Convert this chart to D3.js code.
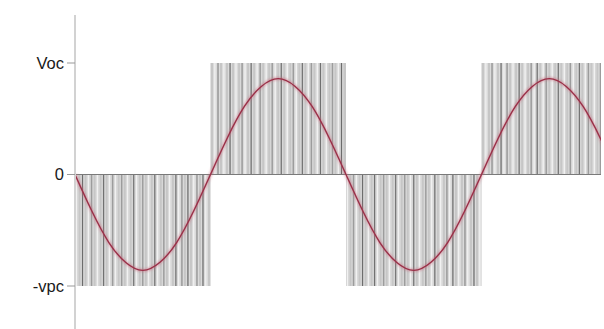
<!DOCTYPE html>
<html>
<head>
<meta charset="utf-8">
<script src="https://cdn.jsdelivr.net/npm/d3@7"></script>
<style>
  html, body { margin: 0; padding: 0; background: #fff; }
  svg { display: block; font-family: "Liberation Sans", Arial, sans-serif; }
</style>
</head>
<body>
<svg id="chart" width="604" height="329"></svg>
<script>
// Output levels of the inverter bridge and their axis labels
const levelValues = [1, 0, -1];
const levelLabels = ["Voc", "0", "-vpc"];

// Half-cycles of the switched output (time in fundamental cycles)
const halfStart = [0, 0.5, 1, 1.5];
const halfEnd   = [0.5, 1, 1.5, 2];
const halfLevel = [-1, 1, -1, 1];

// Pulse edges inside each half-cycle (0 = off gap, 1 = plain, 2 = mid edge, 3 = dark edge)
const pulsePattern = [
  "013102101310201210130121013012101302131021301",
  "102101310120131021012013101201310210310121031",
  "012013101301210130121031012103101203101201310",
  "101201302101310120310210131012013102101201312"
];

// Filtered fundamental, sampled every 1/16 of a cycle
const sineTime = d3.range(0, 33).map(i => i / 16);
const sineValue = [
  0, -0.33, -0.61, -0.79, -0.86, -0.79, -0.61, -0.33,
  0, 0.33, 0.61, 0.79, 0.86, 0.79, 0.61, 0.33,
  0, -0.33, -0.61, -0.79, -0.86, -0.79, -0.61, -0.33,
  0, 0.33, 0.61, 0.79, 0.86, 0.79, 0.61, 0.33, 0
];

const edgeColor = [null, null, "#9c9c9c", "#6c6c6c"];
const edgeWidth = [0, 0, 1.4, 1.1];

const svg = d3.select("#chart");
const x = d3.scaleLinear().domain([0, 2]).range([75, 617]);
const y = d3.scaleLinear().domain([-1, 1]).range([286, 63]);

const defs = svg.append("defs");
defs.append("clipPath").attr("id", "plot")
  .append("rect").attr("x", 75).attr("y", 0).attr("width", 526).attr("height", 329);
defs.append("filter").attr("id", "soft")
  .append("feGaussianBlur").attr("stdDeviation", 0.9);

const plot = svg.append("g").attr("clip-path", "url(#plot)");

// Pulse stripes for every half-cycle
halfStart.forEach((t0, h) => {
  const marks = pulsePattern[h].split("").map(Number);
  const n = marks.length;
  const x0 = x(t0), x1 = x(halfEnd[h]);
  const w = (x1 - x0) / n;
  const yTop = Math.min(y(0), y(halfLevel[h]));
  const yBot = Math.max(y(0), y(halfLevel[h]));
  const g = plot.append("g");
  g.append("rect")
    .attr("x", x0).attr("y", yTop)
    .attr("width", x1 - x0).attr("height", yBot - yTop)
    .attr("fill", "#c6c6c6");
  // off gaps
  g.selectAll("rect.gap")
    .data(marks.map((d, i) => ({ d, i })).filter(m => m.d === 0))
    .join("rect")
    .attr("class", "gap")
    .attr("x", m => x0 + m.i * w + 0.6)
    .attr("y", yTop)
    .attr("width", Math.max(1.2, w - 1.4))
    .attr("height", yBot - yTop)
    .attr("fill", "#f1f1f1");
  // switching edges
  g.selectAll("line.edge")
    .data(marks.map((d, i) => ({ d, i })).filter(m => m.d >= 2))
    .join("line")
    .attr("class", "edge")
    .attr("x1", m => x0 + (m.i + 0.5) * w)
    .attr("x2", m => x0 + (m.i + 0.5) * w)
    .attr("y1", yTop).attr("y2", yBot)
    .attr("stroke", m => edgeColor[m.d])
    .attr("stroke-width", m => edgeWidth[m.d]);
  // thin white separators between pulses
  g.selectAll("line.sep")
    .data(d3.range(1, n))
    .join("line")
    .attr("class", "sep")
    .attr("x1", i => x0 + i * w).attr("x2", i => x0 + i * w)
    .attr("y1", yTop).attr("y2", yBot)
    .attr("stroke", "#ffffff").attr("stroke-opacity", 0.55)
    .attr("stroke-width", 0.7);
});

// Zero reference
plot.append("line")
  .attr("x1", x(0)).attr("x2", x(2))
  .attr("y1", y(0)).attr("y2", y(0))
  .attr("stroke", "#7a7a7a").attr("stroke-width", 1);

// Fundamental waveform
const line = d3.line()
  .x((d, i) => x(sineTime[i]))
  .y(d => y(d))
  .curve(d3.curveNatural);

plot.append("path")
  .datum(sineValue)
  .attr("d", line)
  .attr("fill", "none")
  .attr("stroke", "#c8687c")
  .attr("stroke-opacity", 0.45)
  .attr("stroke-width", 3.5)
  .attr("filter", "url(#soft)");

plot.append("path")
  .datum(sineValue)
  .attr("d", line)
  .attr("fill", "none")
  .attr("stroke", "#9a3048")
  .attr("stroke-width", 1.4);

// Vertical axis
const axis = svg.append("g");
axis.append("line")
  .attr("x1", 75).attr("x2", 75)
  .attr("y1", 15).attr("y2", 329)
  .attr("stroke", "#d2d2d2").attr("stroke-width", 2);

const ticks = axis.selectAll("g.tick")
  .data(levelValues)
  .join("g")
  .attr("class", "tick")
  .attr("transform", d => `translate(0,${y(d)})`);

ticks.append("line")
  .attr("x1", 67).attr("x2", 75)
  .attr("stroke", "#999").attr("stroke-width", 1);

ticks.append("text")
  .attr("x", 64)
  .attr("dy", "0.35em")
  .attr("text-anchor", "end")
  .attr("font-size", 16.5)
  .attr("fill", "#1a1a1a")
  .text((d, i) => levelLabels[i]);
</script>
</body>
</html>
